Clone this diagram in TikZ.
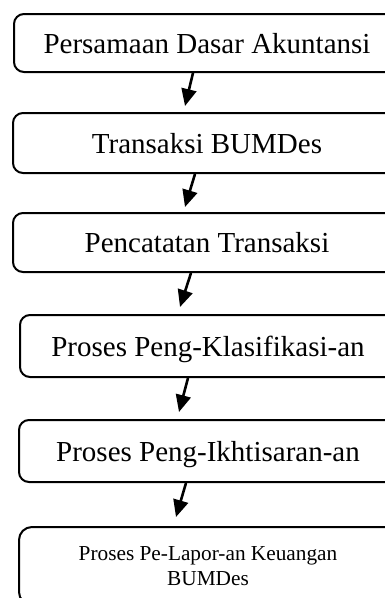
\documentclass[tikz,border=0pt]{standalone}
\usepackage{fontspec}
\setmainfont{Liberation Serif}
\usetikzlibrary{arrows.meta}
\pgfdeclarelayer{edgelayer}
\pgfdeclarelayer{nodelayer}
\pgfsetlayers{edgelayer,nodelayer,main}
\tikzstyle{none}=[inner sep=0pt]
\tikzstyle{stage}=[rectangle,draw=black,line width=2pt,rounded corners=10pt,fill=white,inner sep=0pt,font=\fontsize{29}{34}\selectfont,text height=20pt,text depth=0pt]
\tikzstyle{laststage}=[rectangle,draw=black,line width=2pt,rounded corners=13pt,fill=white,inner sep=0pt,align=center,font=\fontsize{21.3}{25}\selectfont]
\tikzstyle{flow}=[-{Triangle[length=17pt,width=15pt]},line width=2.6pt,draw=black]

\begin{document}
\begin{tikzpicture}[x=1pt,y=-1pt]
	\useasboundingbox (0,0) rectangle (385,598);
	\begin{pgfonlayer}{nodelayer}
		\node [style=stage, minimum width=386pt, minimum height=58pt] (b1) at (207, 43) {Persamaan Dasar Akuntansi};
		\node [style=stage, minimum width=388pt, minimum height=60pt] (b2) at (207, 143) {Transaksi BUMDes};
		\node [style=stage, minimum width=388pt, minimum height=59pt] (b3) at (207, 242.5) {Pencatatan Transaksi};
		\node [style=stage, minimum width=376pt, minimum height=62pt] (b4) at (208, 346) {Proses Peng-Klasifikasi-an};
		\node [style=stage, minimum width=378pt, minimum height=62pt] (b5) at (208, 451) {Proses Peng-Ikhtisaran-an};
		\node [style=laststage, minimum width=378pt, minimum height=78pt] (b6) at (208, 566) {Proses Pe-Lapor-an Keuangan\\BUMDes};
	\end{pgfonlayer}
	\begin{pgfonlayer}{edgelayer}
		\draw [style=flow] ([xshift=-14pt]b1.south) -- ([xshift=-22pt, yshift=6pt]b2.north);
		\draw [style=flow] ([xshift=-12pt]b2.south) -- ([xshift=-22pt, yshift=5pt]b3.north);
		\draw [style=flow] ([xshift=-16pt]b3.south) -- ([xshift=-28pt, yshift=7pt]b4.north);
		\draw [style=flow] ([xshift=-20pt]b4.south) -- ([xshift=-29pt, yshift=7pt]b5.north);
		\draw [style=flow] ([xshift=-22pt]b5.south) -- ([xshift=-32pt, yshift=9pt]b6.north);
	\end{pgfonlayer}
\end{tikzpicture}
\end{document}
